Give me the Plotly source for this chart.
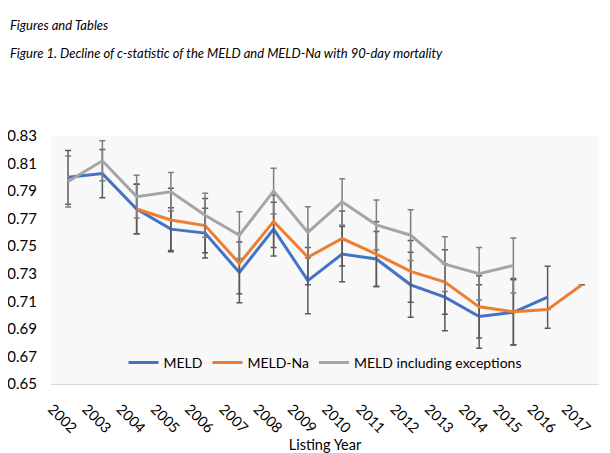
import plotly.graph_objects as go

years = [str(y) for y in range(2002, 2018)]

meld_years = years[0:15]
meld = [0.800, 0.8027, 0.777, 0.7624, 0.7595, 0.731, 0.7624, 0.725, 0.7443, 0.7407,
        0.722, 0.713, 0.699, 0.702, 0.713]
meld_err = [0.0195, 0.0175, 0.018, 0.0155, 0.018, 0.022, 0.0195, 0.024, 0.020, 0.020,
            0.0236, 0.0243, 0.023, 0.0237, 0.0225]

na_years = years[2:16]
meld_na = [0.777, 0.769, 0.765, 0.7375, 0.768, 0.742, 0.7556, 0.7443, 0.7317, 0.724,
           0.706, 0.7025, 0.704, 0.722]
meld_na_err = [0.018, 0.023, 0.0197, 0.022, 0.019, 0.020, 0.020, 0.0235, 0.0224, 0.0234,
               0.0226, 0.024, None, None]

exc_years = years[0:14]
meld_exc = [0.797, 0.812, 0.786, 0.7895, 0.7725, 0.758, 0.790, 0.760, 0.7822, 0.7655,
            0.758, 0.737, 0.730, 0.736]
meld_exc_err = [0.0185, 0.0145, 0.0155, 0.014, 0.016, 0.017, 0.0166, 0.0186, 0.0168, 0.018,
                0.0184, 0.0198, 0.019, 0.020]

y_ticks = [0.65, 0.67, 0.69, 0.71, 0.73, 0.75, 0.77, 0.79, 0.81, 0.83]

FONT = "Lato"

fig = go.Figure()
fig.add_trace(go.Scatter(
    x=meld_years, y=meld, mode="lines", name="MELD",
    line=dict(color="#4472C4", width=3),
    error_y=dict(type="data", array=meld_err, visible=True, color="#595959", thickness=1.5, width=3),
))
fig.add_trace(go.Scatter(
    x=na_years, y=meld_na, mode="lines", name="MELD-Na",
    line=dict(color="#ED7D31", width=3),
    error_y=dict(type="data", array=meld_na_err, visible=True, color="#595959", thickness=1.5, width=3),
))
fig.add_trace(go.Scatter(
    x=exc_years, y=meld_exc, mode="lines", name="MELD including exceptions",
    line=dict(color="#A5A5A5", width=3),
    error_y=dict(type="data", array=meld_exc_err, visible=True, color="#7F7F7F", thickness=1.5, width=3),
))

L, R, T, B = 43, 19, 128, 77
W, H = 610, 453
pw = W - L - R
ph = H - T - B

fig.update_layout(
    width=W, height=H,
    margin=dict(l=L, r=R, t=T, b=B, autoexpand=False),
    paper_bgcolor="white",
    plot_bgcolor="#F8F8F8",
    font=dict(family=FONT, size=13, color="#000000"),
    showlegend=True,
    legend=dict(orientation="h", x=0.5, xanchor="center", y=0.085, yanchor="middle",
                bgcolor="rgba(0,0,0,0)", font=dict(size=14, family=FONT), itemwidth=30,
                traceorder="normal"),
    xaxis=dict(type="category", categoryorder="array", categoryarray=years,
               tickvals=years, ticktext=years, tickangle=45, showgrid=False,
               showline=True, linecolor="#D9D9D9", linewidth=1, zeroline=False,
               range=[-0.5, 15.5], ticks="", tickfont=dict(size=14.5), ticklabelshift=-16,
               ticklabelstandoff=10, automargin=False,
               title=dict(text="Listing Year", font=dict(size=14.5), standoff=4)),
    yaxis=dict(range=[0.65, 0.83], tickvals=y_ticks, tickformat=".2f", showgrid=False,
               showline=False, zeroline=False, ticks="", tickfont=dict(size=15),
               ticklabelstandoff=13, automargin=False),
    annotations=[
        dict(text="<i>Figures and Tables</i>", xref="paper", yref="paper",
             x=-L / pw, y=1 + (T - 17) / ph, xanchor="left", yanchor="middle",
             showarrow=False, font=dict(size=13, family=FONT)),
        dict(text="<i>Figure 1. Decline of c-statistic of the MELD and MELD-Na with 90-day mortality</i>",
             xref="paper", yref="paper",
             x=-L / pw, y=1 + (T - 45) / ph, xanchor="left", yanchor="middle",
             showarrow=False, font=dict(size=13, family=FONT)),
    ],
)

fig.write_html("out.html")
